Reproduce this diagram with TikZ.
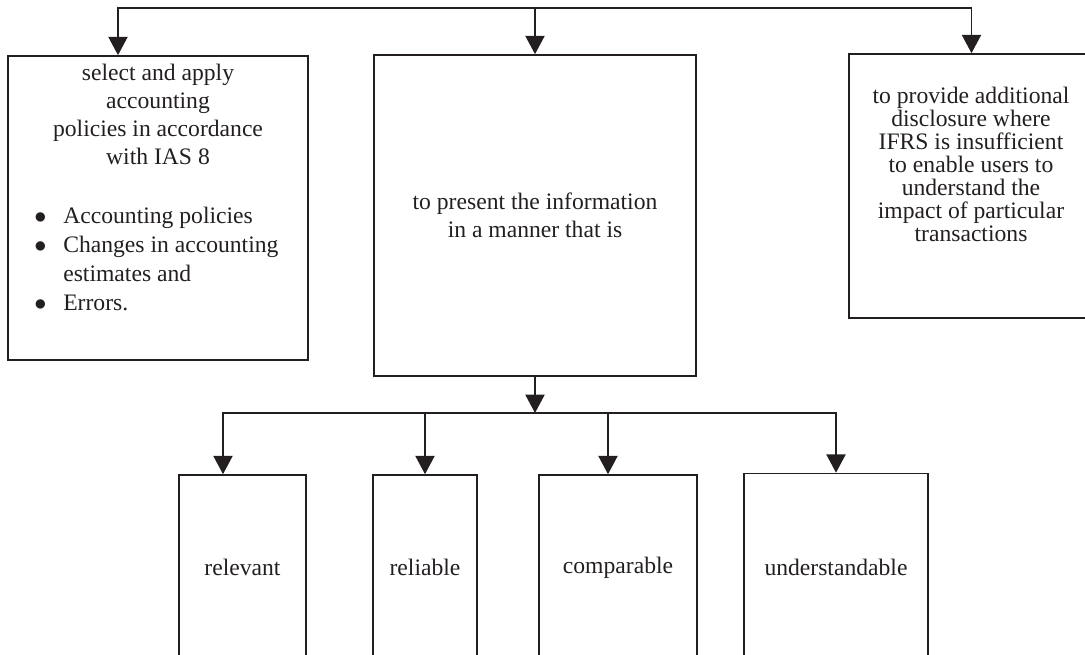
\documentclass[tikz,border=0pt]{standalone}
\usepackage{fontspec}
\setmainfont{Liberation Serif}
\usetikzlibrary{arrows.meta}
\definecolor{ink}{HTML}{231F20}

\begin{document}
\begin{tikzpicture}[x=0.025cm,y=-0.025cm,
  box/.style={draw=ink,line width=1.1pt,inner sep=0pt},
  txt/.style={text=ink,font=\fontsize{16.8}{19.9}\selectfont,align=center},
  arrow/.style={draw=ink,line width=1.2pt,line cap=rect,-{Triangle[length=4.6mm,width=4.8mm]}}]
\useasboundingbox (0,0) rectangle (1085,655);

% top row
\node[box,minimum width=7.5cm,minimum height=7.6cm] (policy) at (158,208) {};
\node[txt] (policyhead) at (158,114) {select and apply\\ accounting\\ policies in accordance\\ with IAS 8};
\node[txt,font=\fontsize{16.8}{20.4}\selectfont,align=left,anchor=west,inner sep=0pt] (policylist) at (34,259)
  {\makebox[7.25mm][l]{$\bullet$}Accounting policies\\
   \makebox[7.25mm][l]{$\bullet$}Changes in accounting\\
   \hspace*{7.25mm}estimates and\\
   \makebox[7.25mm][l]{$\bullet$}Errors.};
\node[box,txt,minimum width=8.05cm,minimum height=8.025cm] (present) at (535,215.5)
  {to present the information\\ in a manner that is};
\node[box,minimum width=6.125cm,minimum height=6.6cm] (extra) at (971.5,186) {};
\node[txt,font=\fontsize{16.8}{16.3}\selectfont] (extratext) at (971,164.5)
  {to provide additional\\ disclosure where\\ IFRS is insufficient\\ to enable users to\\ understand the\\ impact of particular\\ transactions};

% bottom row
\node[box,txt,minimum width=3.175cm,minimum height=4.625cm] (relevant) at (242.5,567.5) {relevant};
\node[box,txt,minimum width=2.6cm,minimum height=4.625cm] (reliable) at (425,567.5) {reliable};
\node[box,txt,minimum width=3.95cm,minimum height=4.625cm] (comparable) at (618,567.5) {comparable};
\node[box,txt,minimum width=4.6cm,minimum height=4.675cm] (understand) at (836,567) {understandable};

% connectors
\coordinate (top) at (118,8);
\draw[arrow] (top) -| (extra.north);
\draw[arrow] (top) -- (top |- policy.north);
\draw[arrow] (present.north |- top) -- (present.north);

\coordinate (fork) at (223,413);
\coordinate (compin) at ([xshift=-2.5mm]comparable.north);
\draw[arrow] (present.south) -- (present.south |- fork);
\draw[arrow] (fork) -| (understand.north);
\draw[arrow] (fork) -- (fork |- relevant.north);
\draw[arrow] (reliable.north |- fork) -- (reliable.north);
\draw[arrow] (compin |- fork) -- (compin);
\end{tikzpicture}
\end{document}
